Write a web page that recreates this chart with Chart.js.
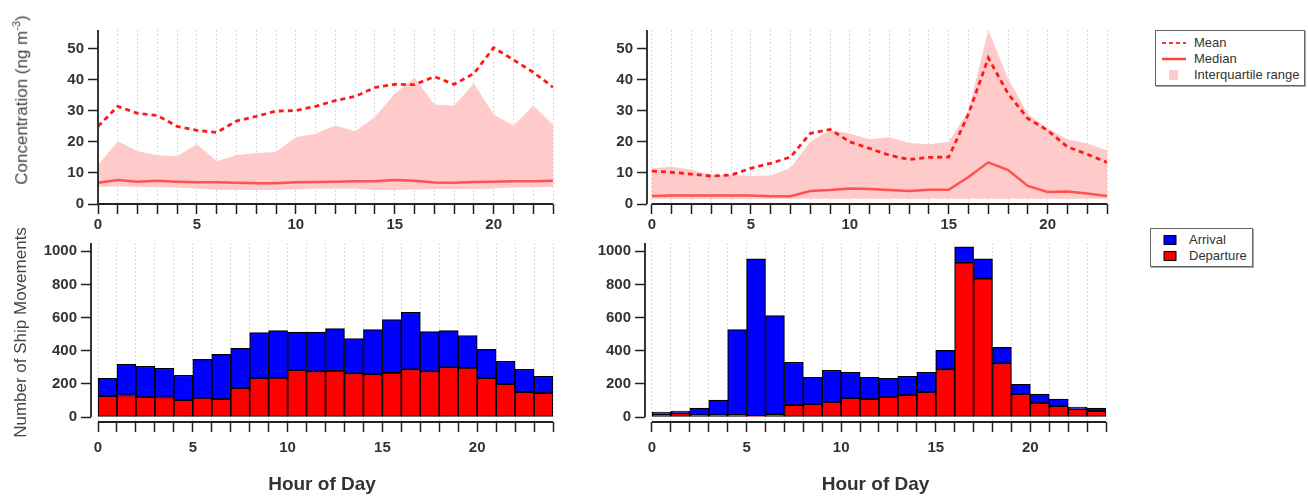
<!DOCTYPE html>
<html>
<head>
<meta charset="utf-8">
<script src="https://cdn.jsdelivr.net/npm/chart.js@4.4.1/dist/chart.umd.min.js"></script>
<style>
    body { margin: 0; background: #fff; font-family: 'Liberation Sans', Arial, sans-serif; }
    #wrap { position: relative; width: 1308px; height: 498px; overflow: hidden; }
    canvas { position: absolute; }
    .ytitle { position: absolute; white-space: nowrap; font-size: 17px; color: #444;
              transform: translate(-50%, -50%) rotate(-90deg); }
    .ytitle sup { font-size: 11px; }
    .legend { position: absolute; border: 1px solid #666; box-shadow: 1px 1px 0 #aaa;
              font-size: 13px; color: #333; box-sizing: border-box; background: #fff; }
    .legend .row { height: 16px; line-height: 16px; white-space: nowrap; display: flex; align-items: center; }
    .legend svg { flex: none; }
</style>
</head>
<body>
<div id="wrap">
    <canvas id="conc-a" width="560" height="240" style="left:0;top:0"></canvas>
    <canvas id="conc-b" width="515" height="240" style="left:600px;top:0"></canvas>
    <canvas id="ships-a" width="560" height="273" style="left:0;top:225px"></canvas>
    <canvas id="ships-b" width="525" height="273" style="left:590px;top:225px"></canvas>

    <div class="ytitle" style="left:21px;top:100px">Concentration (ng m<sup>-3</sup>)</div>

    <div class="legend" style="left:1155px;top:30px;width:150px;height:56px;padding:4px 0 0 4px">
        <div class="row"><svg width="34" height="10"><line x1="2" y1="5" x2="26" y2="5" stroke="#ff3030" stroke-width="2" stroke-dasharray="4 3"/></svg><span>Mean</span></div>
        <div class="row"><svg width="34" height="10"><line x1="2" y1="5" x2="26" y2="5" stroke="#ff4040" stroke-width="2.5"/></svg><span>Median</span></div>
        <div class="row"><svg width="34" height="12"><rect x="9" y="1" width="9" height="10" fill="#ffcaca"/></svg><span>Interquartile range</span></div>
    </div>

    <div class="legend" style="left:1150px;top:228px;width:103px;height:39px;padding:3px 0 0 12px">
        <div class="row"><svg width="26" height="12"><rect x="1" y="1.5" width="12" height="9" fill="#0000ff" stroke="#000" stroke-width="1"/></svg><span>Arrival</span></div>
        <div class="row"><svg width="26" height="12"><rect x="1" y="1.5" width="12" height="9" fill="#ff0000" stroke="#000" stroke-width="1"/></svg><span>Departure</span></div>
    </div>
</div>

<script>
const hours = [0, 1, 2, 3, 4, 5, 6, 7, 8, 9, 10, 11, 12, 13, 14, 15, 16, 17, 18, 19, 20, 21, 22, 23];
const labelledHours = [0, 5, 10, 15, 20];

// concentration, left site
const meanA = [25, 31.4, 29.2, 28.5, 25, 23.7, 23, 26.7, 28.2, 29.9, 30.1, 31.4, 33.3, 34.6, 37.5, 38.5, 38.4, 41, 38.5, 42, 50.3, 46.4, 42.4, 37.6];
const medianA = [6.8, 7.7, 7.2, 7.5, 7.2, 7.0, 7.0, 6.8, 6.7, 6.7, 7.0, 7.1, 7.2, 7.3, 7.3, 7.7, 7.5, 6.9, 6.8, 7.1, 7.2, 7.3, 7.3, 7.5];
const q25A = [5.5, 5.7, 5.5, 5.5, 5.3, 5, 4.5, 4.5, 4.5, 4.5, 4.7, 5, 5, 5, 4.5, 4.5, 4.7, 4.8, 4.8, 4.8, 5, 5.3, 5.5, 5.5];
const q75A = [12.5, 20.2, 17, 15.7, 15.4, 19.2, 13.8, 15.7, 16.4, 16.7, 21.5, 22.6, 25.3, 23.4, 28, 35.5, 40.6, 32, 31.7, 38.8, 28.8, 25.3, 31.6, 25.6];

// concentration, right site
const meanB = [10.6, 10.2, 9.6, 9.0, 9.3, 11.5, 13.1, 15.1, 22.7, 24, 20, 17.9, 15.7, 14.3, 15, 15.1, 29, 47, 35.5, 27.5, 23.7, 18.4, 16, 13.4];
const medianB = [2.6, 2.7, 2.7, 2.7, 2.7, 2.7, 2.5, 2.5, 4.2, 4.5, 5, 4.8, 4.5, 4.2, 4.6, 4.6, 8.7, 13.4, 10.9, 5.8, 3.9, 4, 3.4, 2.6];
const q25B = [1.7, 1.7, 1.7, 1.7, 1.7, 1.7, 1.7, 1.7, 1.7, 1.7, 1.7, 1.7, 1.7, 1.7, 1.7, 1.7, 1.7, 1.7, 1.7, 1.7, 1.7, 1.7, 1.7, 1.7];
const q75B = [11.5, 12, 11, 9.3, 9.3, 9, 9.2, 11.6, 20, 23.7, 22.7, 20.8, 21.5, 19.6, 19.2, 20, 30, 56, 40.3, 29, 24.3, 20.8, 19.5, 17.3];

// ship movements per hour
const departuresA = [126, 130, 120, 118, 102, 116, 108, 174, 234, 236, 282, 276, 278, 264, 258, 266, 288, 276, 300, 296, 234, 198, 150, 144];
const arrivalsA = [108, 188, 186, 176, 150, 232, 270, 240, 276, 286, 230, 236, 256, 210, 270, 322, 344, 240, 222, 196, 174, 138, 138, 102];
const departuresB = [18, 24, 12, 12, 14, 6, 18, 72, 78, 90, 114, 108, 120, 132, 150, 288, 931, 835, 324, 138, 84, 66, 48, 36];
const arrivalsB = [12, 12, 42, 90, 514, 948, 594, 258, 162, 192, 156, 132, 114, 114, 120, 114, 96, 119, 96, 60, 54, 42, 12, 18];

const fontFamily = "'Liberation Sans', Arial, sans-serif";
const tickFont = {family: fontFamily, size: 15, weight: 'bold'};

// detached axis lines, igor style
const axisLines = {
    id: 'axisLines',
    afterDraw: function (chart) {
        var area = chart.chartArea, x = chart.scales.x, y = chart.scales.y, ctx = chart.ctx;
        ctx.save();
        ctx.strokeStyle = '#222';
        ctx.lineWidth = 1.8;
        ctx.beginPath();
        ctx.moveTo(area.left, y.getPixelForValue(0));
        ctx.lineTo(area.left, area.top);
        ctx.moveTo(x.getPixelForValue(0), area.bottom);
        ctx.lineTo(area.right, area.bottom);
        ctx.stroke();
        ctx.restore();
    }
};

let ShipCharts = {

    setup: function () {
        this.drawConcentration('conc-a', meanA, medianA, q25A, q75A, 0, 98, 7);
        this.drawConcentration('conc-b', meanB, medianB, q25B, q75B, -0.25, 47, 8);
        this.drawMovements('ships-a', departuresA, arrivalsA, 91, 7, 'Number of Ship Movements');
        this.drawMovements('ships-b', departuresB, arrivalsB, 55, 9, '');
    },

    points: function (values, shift) {
        return hours.map(function (h, i) {
            return {x: h + shift, y: values[i]};
        });
    },

    axisX: function (min, max, height, titleText) {
        return {
            type: 'linear',
            min: min,
            max: max,
            stacked: true,
            offset: false,
            afterFit: function (scale) {
                scale.height = height;
            },
            afterBuildTicks: function (scale) {
                scale.ticks = scale.ticks.filter(function (t) {
                    return t.value >= 0 && Number.isInteger(t.value);
                });
            },
            ticks: {
                stepSize: 1,
                includeBounds: false,
                autoSkip: false,
                maxRotation: 0,
                padding: titleText ? 7 : 2,
                font: tickFont,
                color: '#333',
                callback: function (value) {
                    return labelledHours.indexOf(value) >= 0 ? value : '';
                }
            },
            grid: {
                offset: false,
                color: '#d9d9d9',
                lineWidth: 1,
                tickLength: 10,
                tickColor: '#222',
                tickWidth: 1.5
            },
            border: {display: false, dash: [2, 2]},
            title: {
                display: !!titleText,
                text: titleText,
                color: '#333',
                font: {family: fontFamily, size: 19, weight: 'bold'},
                padding: {top: 0, bottom: 2}
            }
        };
    },

    axisY: function (min, max, step, width, titleText, stacked) {
        return {
            min: min,
            max: max,
            stacked: stacked,
            afterFit: function (scale) {
                scale.width = width;
            },
            afterBuildTicks: function (scale) {
                scale.ticks = scale.ticks.filter(function (t) {
                    return t.value >= 0 && t.value % step === 0;
                });
            },
            ticks: {
                stepSize: step,
                includeBounds: false,
                padding: 4,
                font: tickFont,
                color: '#333',
                callback: function (value) {
                    return String(value);
                }
            },
            grid: {drawOnChartArea: false, tickLength: 10, tickColor: '#222', tickWidth: 1.5},
            border: {display: false},
            title: {
                display: !!titleText,
                text: titleText,
                color: '#444',
                font: {family: fontFamily, size: 17},
                padding: {top: 11, bottom: 0}
            }
        };
    },

    drawConcentration: function (id, mean, median, q25, q75, xMin, yWidth, padRight) {
        new Chart(document.getElementById(id), {
            type: 'line',
            data: {
                datasets: [
                    {
                        label: 'Mean',
                        data: this.points(mean, 0),
                        borderColor: '#ff1a1a',
                        borderWidth: 2.8,
                        borderDash: [5, 4],
                        pointRadius: 0,
                        fill: false
                    },
                    {
                        label: 'Median',
                        data: this.points(median, 0),
                        borderColor: '#ff5252',
                        borderWidth: 2.5,
                        pointRadius: 0,
                        fill: false
                    },
                    {
                        label: 'Interquartile range',
                        data: this.points(q75, 0),
                        borderWidth: 0,
                        borderColor: 'rgba(0,0,0,0)',
                        backgroundColor: '#ffcaca',
                        pointRadius: 0,
                        fill: '+1'
                    },
                    {
                        label: 'q25',
                        data: this.points(q25, 0),
                        borderWidth: 0,
                        borderColor: 'rgba(0,0,0,0)',
                        pointRadius: 0,
                        fill: false
                    }
                ]
            },
            options: {
                responsive: false,
                animation: false,
                layout: {padding: {left: 0, top: 30, right: padRight, bottom: 0}},
                plugins: {legend: {display: false}, tooltip: {enabled: false}},
                scales: {
                    x: this.axisX(xMin, 23, 36, ''),
                    y: this.axisY(0, 56, 10, yWidth, '', false)
                }
            },
            plugins: [axisLines]
        });
    },

    drawMovements: function (id, departures, arrivals, yWidth, padRight, yTitle) {
        new Chart(document.getElementById(id), {
            type: 'bar',
            data: {
                datasets: [
                    {
                        label: 'Departure',
                        data: this.points(departures, 0.5),
                        backgroundColor: '#ff0000',
                        borderColor: '#000',
                        borderWidth: 1.2,
                        borderSkipped: false,
                        barPercentage: 1,
                        categoryPercentage: 1
                    },
                    {
                        label: 'Arrival',
                        data: this.points(arrivals, 0.5),
                        backgroundColor: '#0000ff',
                        borderColor: '#000',
                        borderWidth: 1.2,
                        borderSkipped: false,
                        barPercentage: 1,
                        categoryPercentage: 1
                    }
                ]
            },
            options: {
                responsive: false,
                animation: false,
                layout: {padding: {left: 0, top: 18, right: padRight, bottom: 0}},
                plugins: {legend: {display: false}, tooltip: {enabled: false}},
                scales: {
                    x: this.axisX(-0.37, 24, 76, 'Hour of Day'),
                    y: this.axisY(-30, 1050, 200, yWidth, yTitle, true)
                }
            },
            plugins: [axisLines]
        });
    }
};

ShipCharts.setup();
</script>
</body>
</html>
